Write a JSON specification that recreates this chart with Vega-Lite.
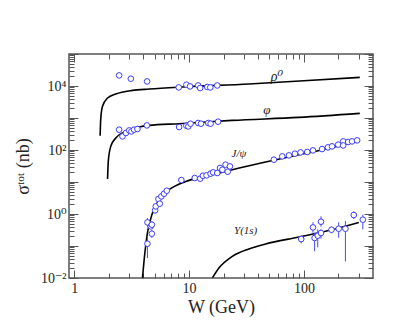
{
  "$schema": "https://vega.github.io/schema/vega-lite/v6.json",
  "width": 304,
  "height": 224,
  "autosize": {"type": "none"},
  "padding": {"left": 69, "top": 54, "right": 42, "bottom": 43},
  "background": "white",
  "config": {
    "view": {"stroke": "#555", "strokeWidth": 1.5},
    "axis": {"grid": false, "domain": false, "tickColor": "#555", "tickWidth": 1, "labelFont": "Liberation Serif, DejaVu Serif, serif", "labelFontSize": 14, "labelColor": "#222", "titleFont": "Liberation Serif, DejaVu Serif, serif", "titleFontWeight": "normal", "titleColor": "#222", "labelOverlap": false, "labelFlush": false}
  },
  "datasets": {
    "curves": [
      {"curve": "rho", "W": 1.68, "sigma": 280},
      {"curve": "rho", "W": 1.70, "sigma": 900},
      {"curve": "rho", "W": 1.76, "sigma": 2300},
      {"curve": "rho", "W": 1.95, "sigma": 4220},
      {"curve": "rho", "W": 2.30, "sigma": 5620},
      {"curve": "rho", "W": 3.21, "sigma": 7290},
      {"curve": "rho", "W": 4.49, "sigma": 8050},
      {"curve": "rho", "W": 8.74, "sigma": 9310},
      {"curve": "rho", "W": 33.3, "sigma": 11550},
      {"curve": "rho", "W": 100, "sigma": 14630},
      {"curve": "rho", "W": 307, "sigma": 18600},
      {"curve": "phi", "W": 1.95, "sigma": 12.4},
      {"curve": "phi", "W": 1.98, "sigma": 45},
      {"curve": "phi", "W": 2.08, "sigma": 130},
      {"curve": "phi", "W": 2.30, "sigma": 237},
      {"curve": "phi", "W": 2.82, "sigma": 381},
      {"curve": "phi", "W": 3.67, "sigma": 523},
      {"curve": "phi", "W": 4.49, "sigma": 587},
      {"curve": "phi", "W": 8.19, "sigma": 664},
      {"curve": "phi", "W": 23.7, "sigma": 841},
      {"curve": "phi", "W": 90.5, "sigma": 1044},
      {"curve": "phi", "W": 307, "sigma": 1393},
      {"curve": "jpsi", "W": 3.93, "sigma": 0.0101},
      {"curve": "jpsi", "W": 4.12, "sigma": 0.0604},
      {"curve": "jpsi", "W": 4.34, "sigma": 0.255},
      {"curve": "jpsi", "W": 4.80, "sigma": 1.07},
      {"curve": "jpsi", "W": 5.48, "sigma": 2.80},
      {"curve": "jpsi", "W": 6.70, "sigma": 5.74},
      {"curve": "jpsi", "W": 9.36, "sigma": 10.4},
      {"curve": "jpsi", "W": 14.0, "sigma": 15.0},
      {"curve": "jpsi", "W": 23.8, "sigma": 24.2},
      {"curve": "jpsi", "W": 46.4, "sigma": 42.2},
      {"curve": "jpsi", "W": 90.5, "sigma": 71.3},
      {"curve": "jpsi", "W": 176, "sigma": 120},
      {"curve": "jpsi", "W": 307, "sigma": 210},
      {"curve": "ups", "W": 16.0, "sigma": 0.0102},
      {"curve": "ups", "W": 18.2, "sigma": 0.0205},
      {"curve": "ups", "W": 23.8, "sigma": 0.0473},
      {"curve": "ups", "W": 33.2, "sigma": 0.0806},
      {"curve": "ups", "W": 46.4, "sigma": 0.1155},
      {"curve": "ups", "W": 90.5, "sigma": 0.191},
      {"curve": "ups", "W": 176, "sigma": 0.323},
      {"curve": "ups", "W": 301, "sigma": 0.546}
    ],
    "points": [
      {"set": "rho", "W": 2.46, "sigma": 21400},
      {"set": "rho", "W": 3.11, "sigma": 16900},
      {"set": "rho", "W": 4.31, "sigma": 13900},
      {"set": "rho", "W": 8.13, "sigma": 9040},
      {"set": "rho", "W": 9.48, "sigma": 11000},
      {"set": "rho", "W": 10.2, "sigma": 9720},
      {"set": "rho", "W": 12.0, "sigma": 10400},
      {"set": "rho", "W": 12.5, "sigma": 8660},
      {"set": "rho", "W": 14.4, "sigma": 9310},
      {"set": "rho", "W": 15.3, "sigma": 9040},
      {"set": "rho", "W": 17.6, "sigma": 10400},
      {"set": "phi", "W": 2.46, "sigma": 431},
      {"set": "phi", "W": 2.63, "sigma": 266},
      {"set": "phi", "W": 2.82, "sigma": 340},
      {"set": "phi", "W": 3.01, "sigma": 410},
      {"set": "phi", "W": 3.15, "sigma": 381},
      {"set": "phi", "W": 3.32, "sigma": 431},
      {"set": "phi", "W": 3.55, "sigma": 453},
      {"set": "phi", "W": 4.29, "sigma": 587},
      {"set": "phi", "W": 8.19, "sigma": 523},
      {"set": "phi", "W": 9.48, "sigma": 574},
      {"set": "phi", "W": 9.86, "sigma": 546},
      {"set": "phi", "W": 10.3, "sigma": 664},
      {"set": "phi", "W": 12.0, "sigma": 698},
      {"set": "phi", "W": 12.7, "sigma": 664},
      {"set": "phi", "W": 14.7, "sigma": 698},
      {"set": "phi", "W": 15.4, "sigma": 664},
      {"set": "phi", "W": 17.9, "sigma": 766},
      {"set": "jpsi", "W": 4.34, "sigma": 0.118, "lo": 0.042, "hi": 0.2},
      {"set": "jpsi", "W": 4.34, "sigma": 0.546, "lo": 0.4, "hi": 0.75},
      {"set": "jpsi", "W": 4.64, "sigma": 0.41},
      {"set": "jpsi", "W": 4.74, "sigma": 0.463, "lo": 0.35, "hi": 0.6},
      {"set": "jpsi", "W": 4.74, "sigma": 0.242, "lo": 0.18, "hi": 0.32},
      {"set": "jpsi", "W": 5.06, "sigma": 1.30},
      {"set": "jpsi", "W": 5.13, "sigma": 1.73},
      {"set": "jpsi", "W": 5.41, "sigma": 2.94},
      {"set": "jpsi", "W": 5.56, "sigma": 2.10},
      {"set": "jpsi", "W": 5.74, "sigma": 3.55},
      {"set": "jpsi", "W": 6.06, "sigma": 4.31},
      {"set": "jpsi", "W": 6.40, "sigma": 5.35},
      {"set": "jpsi", "W": 8.57, "sigma": 11.5},
      {"set": "jpsi", "W": 11.2, "sigma": 13.3},
      {"set": "jpsi", "W": 12.5, "sigma": 12.7},
      {"set": "jpsi", "W": 13.2, "sigma": 15.7},
      {"set": "jpsi", "W": 14.2, "sigma": 16.1},
      {"set": "jpsi", "W": 15.4, "sigma": 18.2},
      {"set": "jpsi", "W": 16.2, "sigma": 20.0},
      {"set": "jpsi", "W": 17.6, "sigma": 19.1},
      {"set": "jpsi", "W": 18.6, "sigma": 27.4},
      {"set": "jpsi", "W": 19.5, "sigma": 24.2},
      {"set": "jpsi", "W": 20.8, "sigma": 34.7},
      {"set": "jpsi", "W": 21.7, "sigma": 21.0, "lo": 16.5, "hi": 26},
      {"set": "jpsi", "W": 22.7, "sigma": 30.7},
      {"set": "jpsi", "W": 54.8, "sigma": 49.8},
      {"set": "jpsi", "W": 64.8, "sigma": 63.1},
      {"set": "jpsi", "W": 74.1, "sigma": 67.8},
      {"set": "jpsi", "W": 83.5, "sigma": 76.6},
      {"set": "jpsi", "W": 93.6, "sigma": 84.1},
      {"set": "jpsi", "W": 107, "sigma": 86.6},
      {"set": "jpsi", "W": 120, "sigma": 97.2},
      {"set": "jpsi", "W": 144, "sigma": 107},
      {"set": "jpsi", "W": 162, "sigma": 121},
      {"set": "jpsi", "W": 176, "sigma": 130},
      {"set": "jpsi", "W": 199, "sigma": 147},
      {"set": "jpsi", "W": 220, "sigma": 186},
      {"set": "jpsi", "W": 220, "sigma": 139},
      {"set": "jpsi", "W": 243, "sigma": 178},
      {"set": "jpsi", "W": 263, "sigma": 186},
      {"set": "jpsi", "W": 291, "sigma": 200},
      {"set": "ups", "W": 94.8, "sigma": 0.165, "lo": 0.12, "hi": 0.21},
      {"set": "ups", "W": 120, "sigma": 0.381, "lo": 0.26, "hi": 0.55},
      {"set": "ups", "W": 124, "sigma": 0.178, "lo": 0.069, "hi": 0.26},
      {"set": "ups", "W": 132, "sigma": 0.21, "lo": 0.09, "hi": 0.33},
      {"set": "ups", "W": 141, "sigma": 0.255, "lo": 0.17, "hi": 0.33},
      {"set": "ups", "W": 141, "sigma": 0.574, "lo": 0.4, "hi": 0.85},
      {"set": "ups", "W": 174, "sigma": 0.323, "lo": 0.25, "hi": 0.4},
      {"set": "ups", "W": 201, "sigma": 0.347, "lo": 0.18, "hi": 0.55},
      {"set": "ups", "W": 230, "sigma": 0.347, "lo": 0.033, "hi": 0.6},
      {"set": "ups", "W": 272, "sigma": 0.93, "lo": 0.7, "hi": 1.2},
      {"set": "ups", "W": 326, "sigma": 0.664, "lo": 0.33, "hi": 0.95}
    ],
    "labels": [
      {"text": "ρ⁰", "W": 58.2, "sigma": 19500, "size": 14},
      {"text": "φ", "W": 47.7, "sigma": 1728, "size": 13},
      {"text": "J/ψ", "W": 27.2, "sigma": 76.6, "size": 11},
      {"text": "Υ(1s)", "W": 31.1, "sigma": 0.30, "size": 11}
    ]
  },
  "layer": [
    {
      "data": {"name": "curves"},
      "mark": {"type": "line", "color": "black", "strokeWidth": 1.6, "interpolate": "monotone", "clip": true},
      "encoding": {
        "detail": {"field": "curve"},
        "order": {"field": "W", "type": "quantitative"},
        "x": {
          "field": "W", "type": "quantitative",
          "scale": {"type": "log", "domain": [0.9, 400], "nice": false},
          "axis": {
            "orient": "bottom",
            "values": [1,2,3,4,5,6,7,8,9,10,20,30,40,50,60,70,80,90,100,200,300],
            "labelExpr": "abs(log(datum.value)/LN10 - round(log(datum.value)/LN10)) < 0.01 ? format(datum.value, 'd') : ''",
            "tickSize": {"condition": {"test": "abs(log(datum.value)/LN10 - round(log(datum.value)/LN10)) < 0.01", "value": -8}, "value": -5},
            "labelPadding": 11,
            "title": "W  (GeV)",
            "titleFontSize": 18,
            "titlePadding": 0
          }
        },
        "y": {
          "field": "sigma", "type": "quantitative",
          "scale": {"type": "log", "domain": [0.01, 100000], "nice": false},
          "axis": {
            "orient": "left",
            "values": [0.01,0.02,0.03,0.04,0.05,0.06,0.07,0.08,0.09,0.1,0.2,0.3,0.4,0.5,0.6,0.7,0.8,0.9,1,2,3,4,5,6,7,8,9,10,20,30,40,50,60,70,80,90,100,200,300,400,500,600,700,800,900,1000,2000,3000,4000,5000,6000,7000,8000,9000,10000,20000,30000,40000,50000,60000,70000,80000,90000,100000],
            "labelExpr": "abs(datum.value-0.01)<0.001 ? '10⁻²' : abs(datum.value-1)<0.01 ? '10⁰' : abs(datum.value-100)<0.1 ? '10²' : abs(datum.value-10000)<1 ? '10⁴' : ''",
            "tickSize": {"condition": {"test": "abs(log(datum.value)/LN10 - round(log(datum.value)/LN10)) < 0.01", "value": -9}, "value": -5},
            "labelPadding": 12,
            "title": "σᵗᵒᵗ  (nb)",
            "titleFontSize": 18,
            "titlePadding": 8
          }
        }
      }
    },
    {
      "data": {"name": "points"},
      "transform": [{"filter": "isValid(datum.lo)"}],
      "mark": {"type": "rule", "color": "#4a4aff", "strokeWidth": 1},
      "encoding": {
        "x": {"field": "W", "type": "quantitative", "scale": {"type": "log", "domain": [0.9, 400], "nice": false}, "axis": null},
        "y": {"field": "lo", "type": "quantitative", "scale": {"type": "log", "domain": [0.01, 100000], "nice": false}, "axis": null},
        "y2": {"field": "hi"}
      }
    },
    {
      "data": {"name": "points"},
      "mark": {"type": "point", "shape": "circle", "filled": true, "fill": "white", "stroke": "#3c3cff", "strokeWidth": 1, "size": 32, "opacity": 1},
      "encoding": {
        "x": {"field": "W", "type": "quantitative", "scale": {"type": "log", "domain": [0.9, 400], "nice": false}, "axis": null},
        "y": {"field": "sigma", "type": "quantitative", "scale": {"type": "log", "domain": [0.01, 100000], "nice": false}, "axis": null}
      }
    },
    {
      "data": {"name": "labels"},
      "mark": {"type": "text", "font": "Liberation Serif, DejaVu Serif, serif", "fontStyle": "italic", "color": "#222", "align": "center", "baseline": "middle"},
      "encoding": {
        "text": {"field": "text"},
        "size": {"field": "size", "type": "quantitative", "scale": null},
        "x": {
          "field": "W", "type": "quantitative", "scale": {"type": "log", "domain": [0.9, 400], "nice": false},
          "axis": {
            "orient": "top",
            "values": [1,2,3,4,5,6,7,8,9,10,20,30,40,50,60,70,80,90,100,200,300],
            "labels": false,
            "title": null,
            "tickSize": {"condition": {"test": "abs(log(datum.value)/LN10 - round(log(datum.value)/LN10)) < 0.01", "value": -8}, "value": -5}
          }
        },
        "y": {
          "field": "sigma", "type": "quantitative", "scale": {"type": "log", "domain": [0.01, 100000], "nice": false},
          "axis": {
            "orient": "right",
            "values": [0.01,0.02,0.03,0.04,0.05,0.06,0.07,0.08,0.09,0.1,0.2,0.3,0.4,0.5,0.6,0.7,0.8,0.9,1,2,3,4,5,6,7,8,9,10,20,30,40,50,60,70,80,90,100,200,300,400,500,600,700,800,900,1000,2000,3000,4000,5000,6000,7000,8000,9000,10000,20000,30000,40000,50000,60000,70000,80000,90000,100000],
            "labels": false,
            "title": null,
            "tickSize": {"condition": {"test": "abs(log(datum.value)/LN10 - round(log(datum.value)/LN10)) < 0.01", "value": -9}, "value": -5}
          }
        }
      }
    }
  ],
  "resolve": {"axis": {"x": "independent", "y": "independent"}}
}
